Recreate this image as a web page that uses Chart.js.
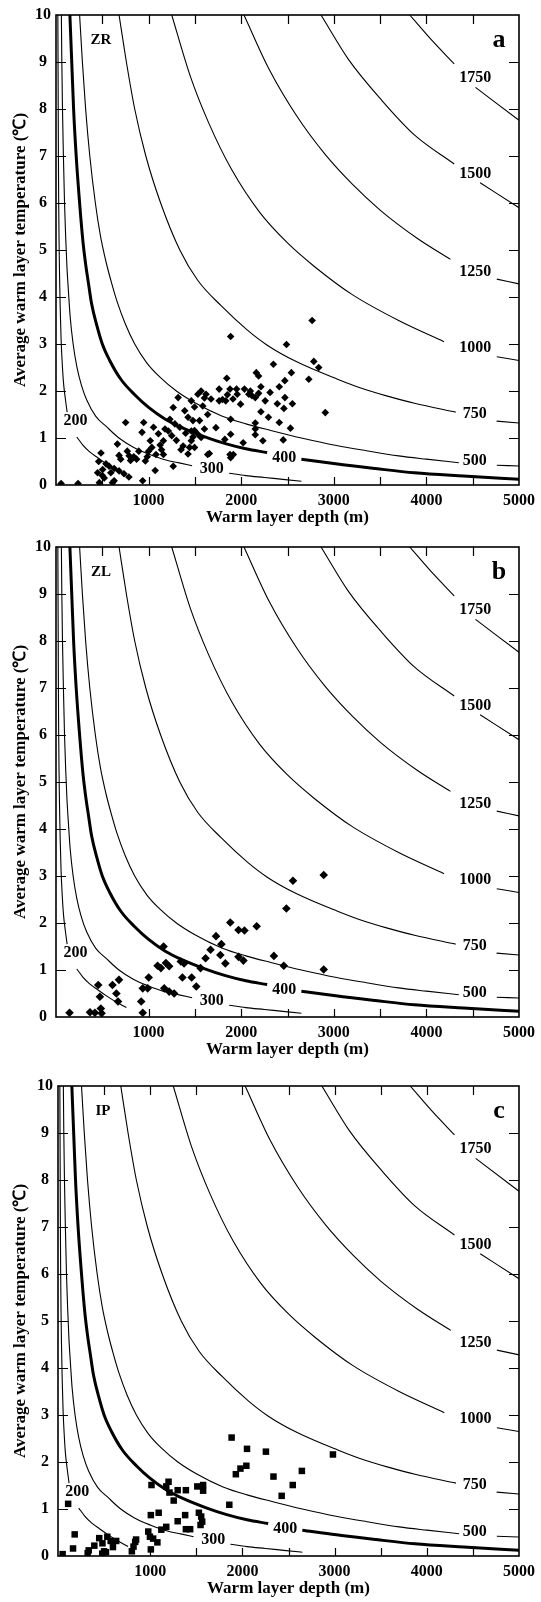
<!DOCTYPE html>
<html lang="en">
  <head>
    <meta charset="UTF-8" />
    <title>Warm layer depth vs average temperature</title>
    <script src="https://cdn.jsdelivr.net/npm/chart.js"></script>
    <style>
      body { margin: 0; background: #fff; }
      .panel { position: absolute; left: 0; }
    </style>
  </head>
  <body>
    <canvas id="chartA" class="panel" width="541" height="531" style="top: 0px"></canvas>
    <canvas id="chartB" class="panel" width="541" height="531" style="top: 532px"></canvas>
    <canvas id="chartC" class="panel" width="541" height="531" style="top: 1071px"></canvas>

    <script>
      // axis ticks
      const depthTicks = [1000, 2000, 3000, 4000, 5000];
      const tempTicks = [0, 1, 2, 3, 4, 5, 6, 7, 8, 9, 10];

      // isolines (depth m, temperature C), null = gap for the label
      const curveSizes = ["200", "300", "400", "500", "750", "1000", "1250", "1500", "1750"];
      const c200 = [[20, 10], [22, 9], [24, 8], [26, 7], [29, 6], [33, 5.2], [38, 4.5], [45, 3.8],
        [55, 3.1], [67, 2.6], [80, 2.2], [100, 1.85], [120, 1.55], null,
        [225, 1.02], [290, 0.85], [367, 0.7], [450, 0.58], [545, 0.45], [650, 0.32], [760, 0.2]];
      const c300 = [[58, 10], [63, 9], [70, 8], [80, 7], [92, 6], [104, 5.3], [118, 4.65], [135, 4.1],
        [153, 3.58], [185, 3.0], [225, 2.52], [275, 2.12], [332, 1.81], [430, 1.46], [545, 1.24],
        [680, 1.0], [830, 0.81], [1000, 0.66], [1187, 0.53], [1330, 0.47], [1470, 0.41], null,
        [1870, 0.25], [2050, 0.2], [2250, 0.16], [2450, 0.12], [2650, 0.08]];
      const c400 = [[150, 10], [170, 9], [190, 8], [218, 7], [255, 6], [290, 5.2], [320, 4.7],
        [350, 4.3], [385, 3.85], [440, 3.4], [500, 3.0], [580, 2.65], [700, 2.25], [850, 1.92],
        [1000, 1.65], [1180, 1.4], [1360, 1.22], [1600, 1.03], [1830, 0.88], [2050, 0.77],
        [2280, 0.69], null, [2650, 0.55], [3020, 0.45], [3450, 0.35], [3870, 0.26], [4400, 0.19],
        [5000, 0.12]];
      const c500 = [[255, 10], [285, 9], [320, 8], [365, 7], [425, 6], [480, 5.3], [540, 4.75],
        [600, 4.3], [660, 3.9], [750, 3.42], [850, 3.0], [980, 2.6], [1120, 2.3], [1300, 2.0],
        [1500, 1.75], [1790, 1.47], [2050, 1.3], [2320, 1.16], [2650, 1.0], [3030, 0.84],
        [3350, 0.73], [3700, 0.62], [4000, 0.55], [4350, 0.475], null, [4760, 0.42], [5000, 0.405]];
      const c750 = [[681, 10], [760, 9], [850, 8.0], [970, 7], [1130, 6.0], [1337, 5.0], [1532, 4.35],
        [1780, 3.82], [2064, 3.3], [2277, 2.98], [2600, 2.62], [3040, 2.25], [3340, 2.03],
        [3600, 1.88], [3872, 1.74], [4316, 1.55], null, [4758, 1.36], [5000, 1.32]];
      const c1000 = [[1250, 10], [1450, 8.7], [1650, 7.7], [1900, 6.7], [2200, 5.8], [2500, 5.15],
        [2790, 4.65], [3200, 4.05], [3700, 3.5], [4190, 3.05], null, [4760, 2.73], [5000, 2.65]];
      const c1250 = [[2030, 10], [2300, 8.85], [2600, 7.85], [2900, 7.05], [3200, 6.4], [3500, 5.85],
        [3900, 5.25], [4260, 4.8], null, [4760, 4.38], [5000, 4.28]];
      const c1500 = [[2862, 10], [3160, 9.05], [3520, 8.18], [3870, 7.45], [4300, 6.83], null,
        [4580, 6.43], [5000, 5.9]];
      const c1750 = [[3820, 10], [4050, 9.48], [4300, 8.96], null, [4530, 8.46], [5000, 7.76]];

      // where each isoline label sits
      const labelDepth = [210, 1683, 2465, 4521, 4521, 4528, 4528, 4528, 4528];
      const labelTemp = [1.37, 0.34, 0.57, 0.51, 1.51, 2.91, 4.54, 6.61, 8.66];

      // observations
      const zrPoints = [
        [55, 0.03], [238, 0.03], [450, 0.26], [461, 0.5], [468, 0.05], [486, 0.68], [504, 0.33],
        [521, 0.15], [500, 0.2], [540, 0.45], [574, 0.4], [592, 0.26], [610, 0.05], [628, 0.35],
        [628, 0.09], [681, 0.3], [734, 0.24], [787, 0.17], [663, 0.87], [681, 0.63], [699, 0.55],
        [752, 1.33], [770, 0.72], [790, 0.62], [805, 0.52], [840, 0.6], [870, 0.55], [894, 0.72],
        [936, 0.09], [929, 1.12], [947, 1.33], [965, 0.51], [985, 0.6], [1000, 0.72], [1018, 0.94],
        [1035, 0.8], [1053, 1.23], [1071, 0.31], [1080, 0.65], [1106, 1.09], [1125, 0.85],
        [1140, 0.75], [1160, 0.94], [1160, 0.65], [1177, 1.19], [1213, 1.15], [1230, 1.4],
        [1250, 1.05], [1266, 1.65], [1266, 0.4], [1284, 1.3], [1300, 0.95], [1319, 1.86],
        [1337, 1.23], [1350, 0.75], [1373, 0.83], [1390, 1.58], [1400, 1.1], [1426, 1.44],
        [1426, 0.66], [1443, 0.8], [1461, 1.79], [1461, 1.15], [1461, 0.94], [1479, 1.37],
        [1479, 1.02], [1496, 1.66], [1496, 1.16], [1496, 0.8], [1532, 1.93], [1532, 1.08],
        [1550, 1.37], [1567, 2.0], [1567, 1.01], [1585, 1.68], [1603, 1.85], [1603, 1.19],
        [1620, 1.93], [1638, 1.5], [1638, 0.65], [1656, 0.67], [1674, 1.83], [1727, 1.22],
        [1762, 2.04], [1762, 1.79], [1798, 1.82], [1823, 0.97], [1833, 1.79], [1844, 2.27],
        [1851, 1.92], [1879, 2.04], [1879, 0.65], [1886, 3.16], [1886, 1.4], [1886, 1.08],
        [1886, 0.58], [1911, 1.83], [1915, 0.65], [1950, 2.04], [1957, 1.93], [1993, 1.72],
        [2021, 0.9], [2035, 2.04], [2082, 1.93], [2099, 2.0], [2117, 1.9], [2152, 1.86],
        [2152, 1.32], [2152, 1.19], [2152, 1.07], [2163, 2.39], [2188, 2.32], [2188, 1.95],
        [2213, 2.09], [2213, 1.56], [2234, 0.94], [2259, 1.79], [2294, 1.44], [2312, 1.97],
        [2348, 2.57], [2390, 1.73], [2411, 2.09], [2411, 1.33], [2454, 0.96], [2461, 1.63],
        [2471, 2.22], [2472, 1.86], [2489, 2.99], [2532, 1.21], [2542, 2.39], [2553, 1.73],
        [2730, 2.25], [2766, 3.5], [2784, 2.63], [2837, 2.5], [2908, 1.54]
      ];
      const zlPoints = [
        [146, 0.09], [367, 0.1], [420, 0.09], [484, 0.18], [492, 0.08], [474, 0.43], [456, 0.68],
        [610, 0.68], [680, 0.79], [652, 0.5], [670, 0.33], [920, 0.33], [937, 0.09], [937, 0.61],
        [990, 0.61], [1001, 0.84], [1162, 1.5], [1097, 1.09], [1133, 1.04], [1187, 1.15],
        [1222, 1.08], [1169, 0.61], [1222, 0.54], [1276, 0.5], [1348, 1.18], [1383, 1.14],
        [1365, 0.84], [1465, 0.84], [1515, 0.65], [1561, 1.04], [1615, 1.25], [1669, 1.43],
        [1728, 1.72], [1786, 1.55], [1775, 1.32], [1829, 1.14], [1882, 2.01], [1971, 1.85],
        [2035, 1.84], [1971, 1.28], [2024, 1.2], [2167, 1.93], [2353, 1.3], [2460, 1.09],
        [2488, 2.31], [2559, 2.9], [2891, 3.02], [2891, 1.01]
      ];
      const ipPoints = [
        [50, 0.04], [110, 1.11], [181, 0.46], [163, 0.16], [322, 0.06], [333, 0.12], [394, 0.22],
        [447, 0.38], [482, 0.27], [500, 0.1], [535, 0.41], [571, 0.32], [596, 0.19], [631, 0.32],
        [480, 0.05], [520, 0.08], [801, 0.1], [819, 0.2], [837, 0.3], [847, 0.35], [979, 0.52],
        [997, 0.41], [1007, 0.14], [1014, 1.51], [1007, 0.87], [1032, 0.37], [1078, 0.29],
        [1092, 0.92], [1121, 0.56], [1174, 0.62], [1174, 1.48], [1199, 1.58], [1209, 1.35],
        [1255, 1.18], [1298, 1.4], [1298, 0.74], [1379, 0.87], [1387, 1.4], [1387, 0.57],
        [1433, 0.57], [1511, 1.48], [1528, 0.92], [1546, 0.66], [1553, 0.84], [1564, 0.73],
        [1574, 1.51], [1574, 1.39], [1858, 1.09], [1883, 2.52], [1929, 1.74], [1979, 1.86],
        [2043, 1.92], [2050, 2.28], [2255, 2.22], [2337, 1.69], [2426, 1.28], [2546, 1.51],
        [2645, 1.81], [2982, 2.16]
      ];

      const SERIF = '"Liberation Serif", "Times New Roman", serif';
      const curves = [c200, c300, c400, c500, c750, c1000, c1250, c1500, c1750];

      function toXY(list) {
        return list.map((p) => (p ? { x: p[0], y: p[1] } : { x: NaN, y: null }));
      }

      // frame, inward ticks, isoline labels and panel tags
      const decorations = {
        id: "decorations",
        afterDatasetsDraw(chart, args, opts) {
          const { ctx, chartArea: a, scales } = chart;
          const x = scales.x;
          const y = scales.y;
          ctx.save();
          ctx.strokeStyle = "#000";
          ctx.lineWidth = 1.2;
          ctx.beginPath();
          x.ticks.forEach((t) => {
            if (t.value <= 0 || t.value >= 5000) return;
            const px = Math.round(x.getPixelForValue(t.value)) + 0.5;
            ctx.moveTo(px, a.bottom);
            ctx.lineTo(px, a.bottom - 8);
            ctx.moveTo(px, a.top);
            ctx.lineTo(px, a.top + 9);
          });
          y.ticks.forEach((t) => {
            if (t.value <= 0 || t.value >= 10) return;
            const py = Math.round(y.getPixelForValue(t.value)) + 0.5;
            ctx.moveTo(a.left, py);
            ctx.lineTo(a.left + 10, py);
            ctx.moveTo(a.right, py);
            ctx.lineTo(a.right - 10, py);
          });
          ctx.stroke();
          ctx.lineWidth = 1.6;
          ctx.strokeRect(a.left, a.top, a.right - a.left, a.bottom - a.top);

          ctx.fillStyle = "#000";
          ctx.textAlign = "center";
          ctx.textBaseline = "middle";
          ctx.font = "bold 16px " + SERIF;
          curveSizes.forEach((s, i) => {
            ctx.fillText(s, x.getPixelForValue(labelDepth[i]), y.getPixelForValue(labelTemp[i]));
          });
          ctx.font = "bold 15px " + SERIF;
          ctx.fillText(opts.tag, a.left + 45, a.top + 25);
          ctx.font = "bold 26px " + SERIF;
          ctx.fillText(opts.letter, a.right - 20, a.top + 25);
          ctx.restore();
        },
      };

      function buildPanel(id, points, style, radius, tag, letter, leftEdge) {
        const datasets = curves.map((c, i) => ({
          type: "line",
          data: toXY(c),
          showLine: true,
          borderColor: "#000",
          borderWidth: curveSizes[i] === "400" ? 3 : 1.1,
          pointRadius: 0,
          fill: false,
          spanGaps: false,
          cubicInterpolationMode: "monotone",
          order: 2,
        }));
        datasets.push({
          type: "scatter",
          data: toXY(points),
          pointStyle: style,
          pointRadius: radius,
          backgroundColor: "#000",
          borderColor: "#000",
          borderWidth: 0,
          order: 1,
        });

        return new Chart(document.getElementById(id), {
          type: "scatter",
          data: { datasets: datasets },
          options: {
            responsive: false,
            animation: false,
            devicePixelRatio: 1,
            events: [],
            layout: { padding: { top: 15, right: 541 - (leftEdge + 470), left: 0, bottom: 0 } },
            plugins: {
              legend: { display: false },
              tooltip: { enabled: false },
              decorations: { tag: tag, letter: letter },
            },
            scales: {
              x: {
                type: "linear",
                min: 0,
                max: 5000,
                grid: { display: false, drawTicks: false },
                border: { display: false },
                ticks: {
                  stepSize: 500,
                  autoSkip: false,
                  maxRotation: 0,
                  padding: 6,
                  color: "#000",
                  font: { family: SERIF, size: 16, weight: "bold" },
                  callback: (v) => (depthTicks.includes(v) ? String(v) : ""),
                },
                title: {
                  display: true,
                  text: "Warm layer depth (m)",
                  color: "#000",
                  font: { family: SERIF, size: 17, weight: "bold" },
                  padding: { top: 0, bottom: 3 },
                },
                afterFit: (s) => { s.height = 46; },
              },
              y: {
                type: "linear",
                min: 0,
                max: 10,
                grid: { display: false, drawTicks: false },
                border: { display: false },
                ticks: {
                  stepSize: 1,
                  padding: 5,
                  crossAlign: "center",
                  color: "#000",
                  font: { family: SERIF, size: 16, weight: "bold" },
                  callback: (v) => (tempTicks.includes(v) ? String(v) : ""),
                },
                title: {
                  display: true,
                  text: "Average warm layer temperature (℃)",
                  color: "#000",
                  font: { family: SERIF, size: 17, weight: "bold" },
                  padding: { top: 10, bottom: 0 },
                },
                afterFit: (s) => { s.width = leftEdge; },
              },
            },
          },
          plugins: [decorations],
        });
      }

      buildPanel("chartA", zrPoints, "rectRot", 3.8, "ZR", "a", 56);
      buildPanel("chartB", zlPoints, "rectRot", 4.3, "ZL", "b", 56);
      buildPanel("chartC", ipPoints, "rect", 4.6, "IP", "c", 58);
    </script>
  </body>
</html>
